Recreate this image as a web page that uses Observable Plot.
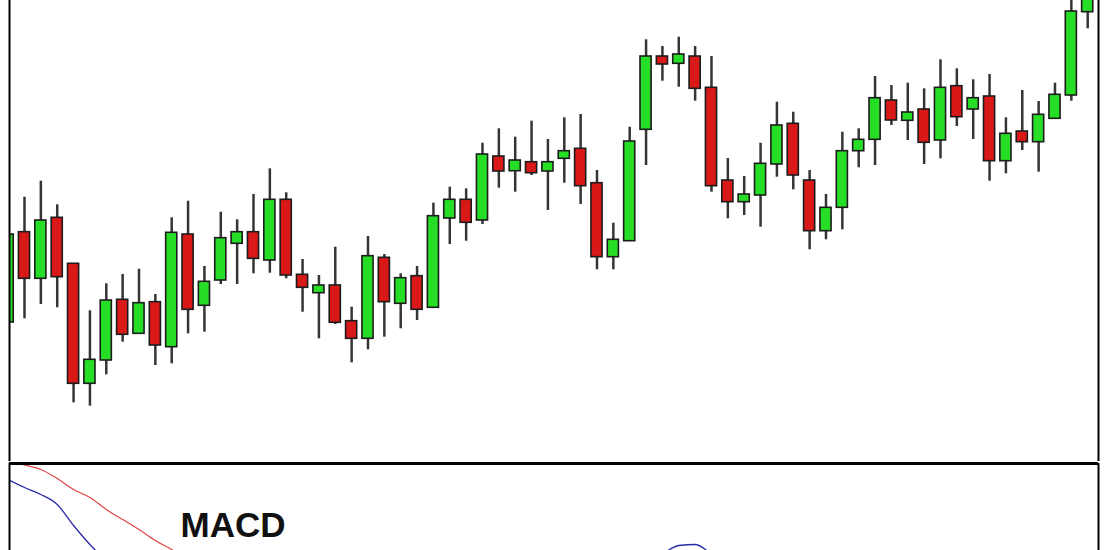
<!DOCTYPE html>
<html>
<head>
<meta charset="utf-8">
<script src="https://cdn.jsdelivr.net/npm/d3@7"></script>
<script src="https://cdn.jsdelivr.net/npm/@observablehq/plot@0.6"></script>
<style>
  html, body { margin: 0; padding: 0; background: #fff; }
  #chart { width: 1110px; height: 550px; overflow: hidden; }
  #chart > div { overflow: hidden; }
  svg { display: block; }
</style>
</head>
<body>
<div id="chart"><div id="main"></div><div id="macd"></div></div>
<script>
// ---- Data (price units) ----
const candleIndex = d3.range(67);
const open = [141,231.3,184.7,245.7,199.7,79.7,103,163.7,129.7,161.3,116.3,229,157.7,183,219.7,231.3,203,263.7,188.7,170.3,178,142.3,124.7,205.7,159.7,187.3,155.7,245,263.7,243,307,292.3,301.3,292,304.7,314.7,280.3,206.3,222.3,333.7,407,399.7,407,375.7,283,261.3,268,299,339.7,283,232.3,255.7,312.3,323.7,363,342.7,354,323,377.3,354,367,302.3,332,321.3,344.7,368,451.3];
const high = [231,266.3,282.3,258.7,199.7,152.7,179.7,189,194.3,169,245.7,262.3,197,251.3,243.7,269,294.7,270.7,204,188,216.3,156.3,227,209,189.7,197,260.3,276.3,274.7,320.3,334.7,326.3,342.3,324,345.7,349,293,240.3,336.3,423.7,417,426.3,417,407,305,287,320.3,361.3,351.3,293,269,331.3,334.7,387,378,380.3,374.7,403.7,394.7,383.7,389,345.7,373,362,380.3,468,493];
const low = [139,144.7,159,155.7,60.7,57.3,88.7,121.3,129,98,99.7,129.7,131.3,179,179,189.7,190.3,184.7,151.3,124.7,139,100.7,113.7,126.3,134.7,143,155.7,219,222.3,239,275.3,271.3,288,253,280.3,259,193.7,193.7,222.3,298,382.3,376.3,362.3,271.3,244.7,248,236.3,286.3,273.7,213.7,223.7,233.7,295.7,298,338,323,299,304.7,337,324,282.3,289.7,313,291.3,344.7,362.3,434.7];
const close = [229,184.7,243,186.3,79.7,103.7,163,128.7,160.3,118,230.7,153.7,181.7,225.3,231.3,204.7,263.7,188,175.7,178,140.7,124.7,207.3,161.3,185.3,153.7,247.3,263.7,240.7,309,292,303,290.3,301.3,312.3,277.3,206.3,223.7,322,407,399,409,374.7,277.3,261.3,269,299.7,338,288,232.3,255.7,312.3,323.7,365.3,343,351,320.7,375.7,346.3,365.3,302.3,329.7,321.3,348.7,368.7,452,478];
// MACD panel values (MACD line in blue, signal line in red)
const macdLine = [34,26,19,9,-12,-31,-47,-60,-70,-78,-84,-88,-90,-90,-88,-86,-82,-82,-85,-88,-92,-96,-94,-92,-90,-88,-82,-76,-72,-64,-60,-56,-54,-53,-52,-54,-60,-62,-55,-46,-40,-32,-31,-40,-48,-56,-58,-54,-52,-58,-62,-58,-54,-48,-46,-46,-48,-44,-44,-45,-50,-52,-52,-50,-48,-44,-40];
const signalLine = [52,48.5,44,35,24,16,4,-6,-16,-27,-36,-45,-52,-58,-63,-67,-70,-73,-75,-78,-80,-83,-85,-87,-88,-88,-87,-85,-83,-80,-77,-74,-71,-68,-66,-64,-63,-63,-62,-59,-56,-52,-49,-47,-47,-49,-51,-52,-52,-53,-55,-56,-55,-54,-52,-50,-49,-48,-47,-46,-46,-47,-48,-49,-49,-48,-47];
const panelLabel = ["MACD"];

// ---- Scales / styling ----
const xDomain = [0.083, 66.66];
const green = "#27de27", red = "#d91818", outline = "#1c1c1c", wick = "#353535";
const halfBody = 0.34;

const candles = candleIndex.map(i => ({
  i, open: open[i], high: high[i], low: low[i], close: close[i], up: close[i] >= open[i]
}));

const mainPlot = Plot.plot({
  width: 1110, height: 461,
  marginLeft: 9, marginRight: 12, marginTop: 0, marginBottom: 0,
  x: {domain: xDomain, axis: null},
  y: {domain: [2, 463], axis: null},
  marks: [
    Plot.ruleX(candles, {x: "i", y1: "low", y2: "high", stroke: wick, strokeWidth: 2.5, clip: true}),
    Plot.rect(candles.filter(d => d.up), {
      x1: d => d.i - halfBody, x2: d => d.i + halfBody, y1: "open", y2: "close",
      fill: green, stroke: outline, strokeWidth: 1.6, clip: true
    }),
    Plot.rect(candles.filter(d => !d.up), {
      x1: d => d.i - halfBody, x2: d => d.i + halfBody, y1: "open", y2: "close",
      fill: red, stroke: outline, strokeWidth: 1.6, clip: true
    }),
    Plot.ruleX(xDomain, {stroke: "#000", strokeWidth: 2})
  ]
});
document.getElementById("main").appendChild(mainPlot);

const macdDomain = [-37, 50];
const macdPlot = Plot.plot({
  width: 1110, height: 89,
  marginLeft: 9, marginRight: 12, marginTop: 2, marginBottom: 0,
  x: {domain: xDomain, axis: null},
  y: {domain: macdDomain, axis: null},
  marks: [
    Plot.lineY(signalLine, {x: candleIndex, stroke: "#e04444", strokeWidth: 1.2, curve: "monotone-x", clip: true}),
    Plot.lineY(macdLine, {x: candleIndex, stroke: "#2a2aa8", strokeWidth: 1.3, curve: "monotone-x", clip: true}),
    Plot.text(panelLabel, {
      frameAnchor: "top-left", dx: 171, dy: 73, textAnchor: "start", lineAnchor: "bottom",
      fontSize: 35, fontWeight: "bold", fill: "#111",
      fontFamily: "'Liberation Sans', Arial, sans-serif"
    }),
    Plot.ruleY([macdDomain[1]], {stroke: "#000", strokeWidth: 3}),
    Plot.ruleX(xDomain, {stroke: "#000", strokeWidth: 2})
  ]
});
document.getElementById("macd").appendChild(macdPlot);
</script>
</body>
</html>
